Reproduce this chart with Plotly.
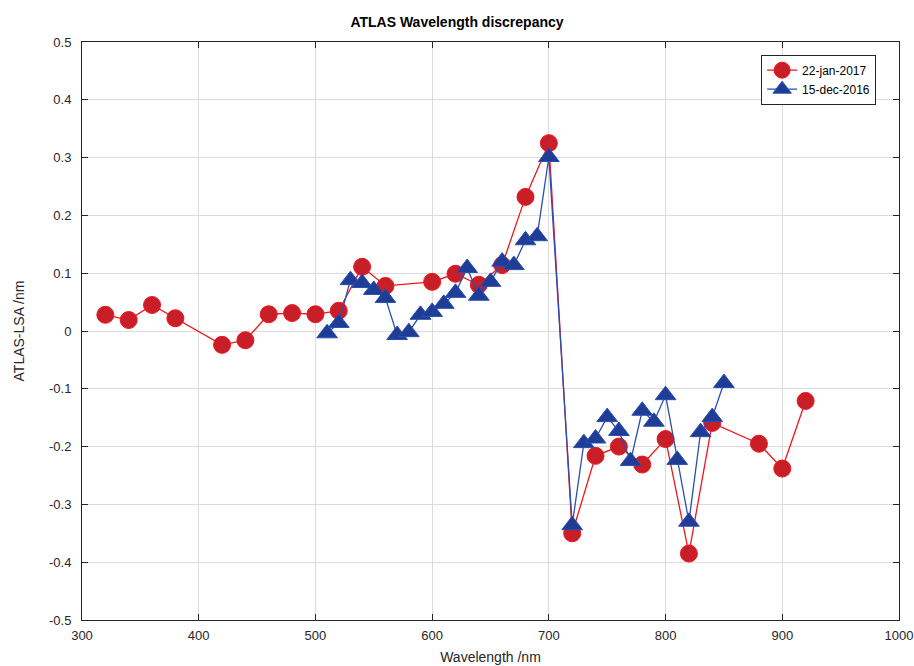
import plotly.graph_objects as go

# 22-jan-2017
x_jan = [320, 340, 360, 380, 420, 440, 460, 480, 500, 520, 540, 560, 600, 620, 640, 660, 680, 700,
         720, 740, 760, 780, 800, 820, 840, 880, 900, 920]
y_jan = [0.028, 0.019, 0.045, 0.022, -0.024, -0.016, 0.029, 0.031, 0.029, 0.035, 0.111, 0.078,
         0.085, 0.099, 0.080, 0.114, 0.232, 0.325,
         -0.350, -0.216, -0.200, -0.231, -0.187, -0.385, -0.159, -0.195, -0.238, -0.121]

# 15-dec-2016
x_dec = [510, 520, 530, 540, 550, 560, 570, 580, 590, 600, 610, 620, 630, 640, 650, 660, 670, 680, 690, 700,
         720, 730, 740, 750, 760, 770, 780, 790, 800, 810, 820, 830, 840, 850]
y_dec = [-0.004, 0.014, 0.088, 0.083, 0.071, 0.057, -0.007, -0.002, 0.028, 0.033, 0.047, 0.066, 0.109,
         0.061, 0.085, 0.120, 0.114, 0.157, 0.164, 0.301,
         -0.336, -0.194, -0.186, -0.149, -0.173, -0.225, -0.138, -0.157, -0.111, -0.223, -0.330,
         -0.175, -0.149, -0.090]

x_ticks = [300, 400, 500, 600, 700, 800, 900, 1000]
y_ticks = [-0.5, -0.4, -0.3, -0.2, -0.1, 0, 0.1, 0.2, 0.3, 0.4, 0.5]
y_ticktext = ["-0.5", "-0.4", "-0.3", "-0.2", "-0.1", "0", "0.1", "0.2", "0.3", "0.4", "0.5"]

fig = go.Figure()
fig.add_trace(go.Scatter(
    x=x_jan, y=y_jan, mode="lines+markers", name="22-jan-2017",
    line=dict(color="#F0151E", width=1.3),
    marker=dict(symbol="circle", size=17, color="#C81E28", line=dict(color="#F0151E", width=1)),
))
fig.add_trace(go.Scatter(
    x=x_dec, y=y_dec, mode="lines+markers", name="15-dec-2016",
    line=dict(color="#2A4FAE", width=1.3),
    marker=dict(symbol="triangle-up", size=18, color="#1F3C96", line=dict(color="#2A4FAE", width=1)),
))

axis_common = dict(
    showline=True, linecolor="#262626", linewidth=1, mirror="ticks",
    ticks="inside", ticklen=6, tickcolor="#262626",
    showgrid=True, gridcolor="#DCDCDC", gridwidth=1,
    zeroline=False, automargin=False,
    tickfont=dict(family="Liberation Sans, Arial, sans-serif", size=13, color="#262626"),
)

fig.update_xaxes(range=[300, 1000], tickvals=x_ticks, ticktext=[str(v) for v in x_ticks],
                 ticklabelstandoff=3,
                 title=dict(text="Wavelength /nm", font=dict(size=14, color="#262626"), standoff=10),
                 **axis_common)
fig.update_yaxes(range=[-0.5, 0.5], tickvals=y_ticks, ticktext=y_ticktext,
                 ticklabelstandoff=7,
                 title=dict(text="ATLAS-LSA /nm", font=dict(size=14, color="#262626"), standoff=21),
                 **axis_common)

fig.update_layout(
    width=914, height=666,
    margin=dict(l=82, r=15, t=42, b=46),
    paper_bgcolor="white", plot_bgcolor="white",
    font=dict(family="Liberation Sans, Arial, sans-serif", size=13, color="#262626"),
    title=dict(text="<b>ATLAS Wavelength discrepancy</b>", x=0.5, xanchor="center",
               y=0.967, yanchor="middle", yref="container",
               font=dict(size=14, color="black")),
    legend=dict(x=0.972, y=0.978, xanchor="right", yanchor="top",
                bordercolor="#262626", borderwidth=1, bgcolor="white",
                font=dict(size=12, color="black"), tracegroupgap=0, itemwidth=30),
    showlegend=True,
)

fig.write_html("out.html", config={"displayModeBar": False},
               post_script="document.body.style.margin='0';document.body.style.overflow='hidden';")
